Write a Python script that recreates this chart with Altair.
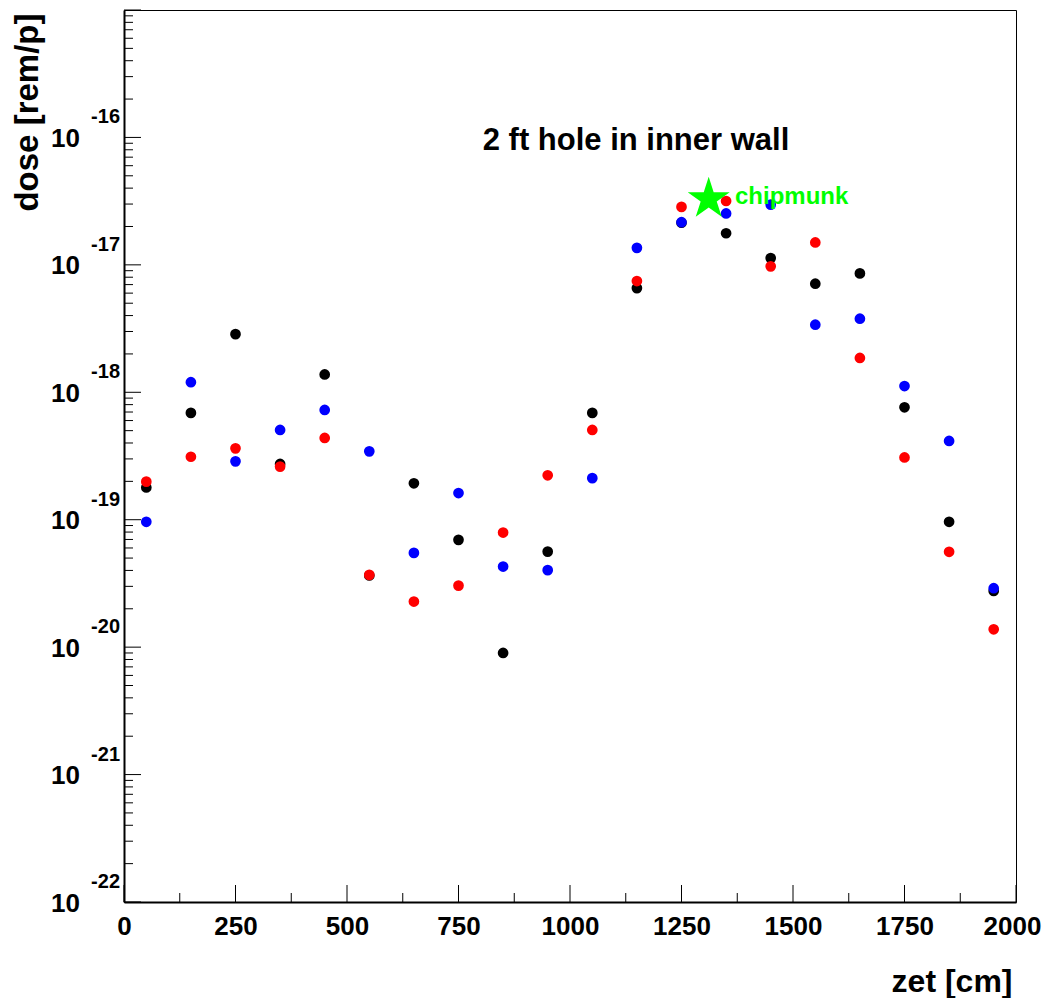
import altair as alt
import pandas as pd

# ---------------- data ----------------
zet = [50, 150, 250, 350, 450, 550, 650, 750, 850, 950,
       1050, 1150, 1250, 1350, 1450, 1550, 1650, 1750, 1850, 1950]

dose_black = [1.79e-19, 6.89e-19, 2.86e-18, 2.74e-19, 1.38e-18, 3.65e-20, 1.93e-19, 6.95e-20, 9.0e-21, 5.62e-20,
              6.89e-19, 6.57e-18, 2.14e-17, 1.77e-17, 1.13e-17, 7.11e-18, 8.57e-18, 7.62e-19, 9.63e-20, 2.76e-20]
dose_blue = [9.63e-20, 1.20e-18, 2.87e-19, 5.06e-19, 7.27e-19, 3.44e-19, 5.49e-20, 1.62e-19, 4.29e-20, 4.02e-20,
             2.12e-19, 1.36e-17, 2.16e-17, 2.53e-17, 2.97e-17, 3.39e-18, 3.78e-18, 1.12e-18, 4.15e-19, 2.90e-20]
dose_red = [1.99e-19, 3.12e-19, 3.63e-19, 2.61e-19, 4.38e-19, 3.69e-20, 2.28e-20, 3.04e-20, 7.93e-20, 2.23e-19,
            5.06e-19, 7.46e-18, 2.85e-17, 3.17e-17, 9.73e-18, 1.50e-17, 1.86e-18, 3.08e-19, 5.60e-20, 1.38e-20]

series_names = ["black", "blue", "red"]
series_colors = ["#000000", "#0000ff", "#ff0000"]

star_zet = [1311]
star_dose = [3.29e-17]
star_label = ["chipmunk"]
label_zet = [1370]

title_text = ["2 ft hole in inner wall"]
title_zet = [1148]
title_dose = [1e-16]

x_tick_major = [0, 250, 500, 750, 1000, 1250, 1500, 1750, 2000]
x_tick_minor = [125, 375, 625, 875, 1125, 1375, 1625, 1875]
y_exponents = [-22, -21, -20, -19, -18, -17, -16]
y_major_exp = [-22, -21, -20, -19, -18, -17, -16, -15]
y_minor_mult = [2, 3, 4, 5, 6, 7, 8, 9]

# ---------------- tables ----------------
rows = []
for name, vals in zip(series_names, [dose_black, dose_blue, dose_red]):
    for z, d in zip(zet, vals):
        rows.append({"zet": z, "dose": d, "series": name})
pts = pd.DataFrame(rows)

star_df = pd.DataFrame({"zet": star_zet, "dose": star_dose})
lab_df = pd.DataFrame({"zet": label_zet, "dose": star_dose, "t": star_label})
title_df = pd.DataFrame({"zet": title_zet, "dose": title_dose, "t": title_text})

xmaj = pd.DataFrame({"zet": x_tick_major})
xmin = pd.DataFrame({"zet": x_tick_minor})
ymaj = pd.DataFrame({"dose": [10.0 ** e for e in y_major_exp]})
ymin = pd.DataFrame({"dose": [m * 10.0 ** e for e in y_exponents for m in y_minor_mult]})
ylab = pd.DataFrame({"dose": [10.0 ** e for e in y_exponents],
                     "base": ["10"] * len(y_exponents),
                     "exp": [str(e) for e in y_exponents]})

FONT = "Liberation Sans"

xscale = alt.Scale(type="linear", domain=[0, 2000], nice=False, zero=False)
yscale = alt.Scale(type="log", domain=[1e-22, 1e-15], nice=False)

xaxis = alt.Axis(
    values=x_tick_major, format="d", ticks=False, tickSize=0, grid=False,
    labelFont=FONT, labelFontSize=26, labelFontWeight="bold", labelColor="black",
    labelBaseline="alphabetic", labelPadding=32, labelFlush=False, labelOverlap=False,
    labelOffset={"condition": {"test": "datum.value >= 2000", "value": -4}, "value": 0},
    domainColor="black", domainWidth=2,
    title="zet [cm]", titleFont=FONT, titleFontSize=32, titleFontWeight="bold",
    titleColor="black", titleAlign="right", titleBaseline="alphabetic",
    titleX=888, titleY=89,
)
yaxis = alt.Axis(
    labels=False, ticks=False, tickSize=0, grid=False,
    domainColor="black", domainWidth=2,
    title="dose [rem/p]", titleFont=FONT, titleFontSize=33, titleFontWeight="bold",
    titleColor="black", titleAngle=270, titleAlign="right", titleBaseline="alphabetic",
    titleX=-87, titleY=3,
)

X = lambda: alt.X("zet:Q", scale=xscale, axis=xaxis)
Y = lambda: alt.Y("dose:Q", scale=yscale, axis=yaxis)

STAR = ("M0,-1 L0.2245,-0.309 L0.9511,-0.309 L0.3633,0.118 L0.5878,0.809 "
        "L0,0.382 L-0.5878,0.809 L-0.3633,0.118 L-0.9511,-0.309 L-0.2245,-0.309 Z")

ytick_major = alt.Chart(ymaj).mark_rule(color="black", strokeWidth=1).encode(
    y=Y(), x=alt.value(0), x2=alt.value(17))
ytick_minor = alt.Chart(ymin).mark_rule(color="black", strokeWidth=1).encode(
    y=Y(), x=alt.value(0), x2=alt.value(9))
xtick_major = alt.Chart(xmaj).mark_rule(color="black", strokeWidth=1).encode(
    x=X(), y=alt.value(892), y2=alt.value(875))
xtick_minor = alt.Chart(xmin).mark_rule(color="black", strokeWidth=1).encode(
    x=X(), y=alt.value(892), y2=alt.value(883))

points = alt.Chart(pts).mark_circle(size=115, opacity=1).encode(
    x=X(), y=Y(),
    color=alt.Color("series:N", scale=alt.Scale(domain=series_names, range=series_colors), legend=None),
)

star = alt.Chart(star_df).mark_point(shape=STAR, filled=True, size=1950, color="#00ff00",
                                     opacity=1, strokeWidth=0).encode(x=X(), y=Y())

star_text = alt.Chart(lab_df).mark_text(align="left", baseline="alphabetic", dy=4.6,
                                        font=FONT, fontSize=24, fontWeight="bold",
                                        color="#00ff00").encode(x=X(), y=Y(), text="t:N")

title = alt.Chart(title_df).mark_text(align="center", baseline="alphabetic", dy=12.7,
                                      font=FONT, fontSize=31, fontWeight="bold",
                                      color="black").encode(x=X(), y=Y(), text="t:N")

ylab_base = alt.Chart(ylab).mark_text(align="right", baseline="alphabetic", dy=9.5,
                                      font=FONT, fontSize=26, fontWeight="bold",
                                      color="black").encode(y=Y(), x=alt.value(-44), text="base:N")
ylab_exp = alt.Chart(ylab).mark_text(align="right", baseline="alphabetic", dy=-14,
                                     font=FONT, fontSize=20, fontWeight="bold",
                                     color="black").encode(y=Y(), x=alt.value(-4), text="exp:N")

chart = alt.layer(
    ytick_minor, ytick_major, xtick_minor, xtick_major,
    points, star, star_text, title, ylab_base, ylab_exp,
).properties(
    width=892, height=892,
    autosize=alt.AutoSizeParams(type="none"),
    padding={"left": 116, "top": 2, "right": 27, "bottom": 96},
    background="white",
).configure_view(stroke="black", strokeWidth=1)

chart.save("out.html", embed_options={"renderer": "svg", "actions": False})
